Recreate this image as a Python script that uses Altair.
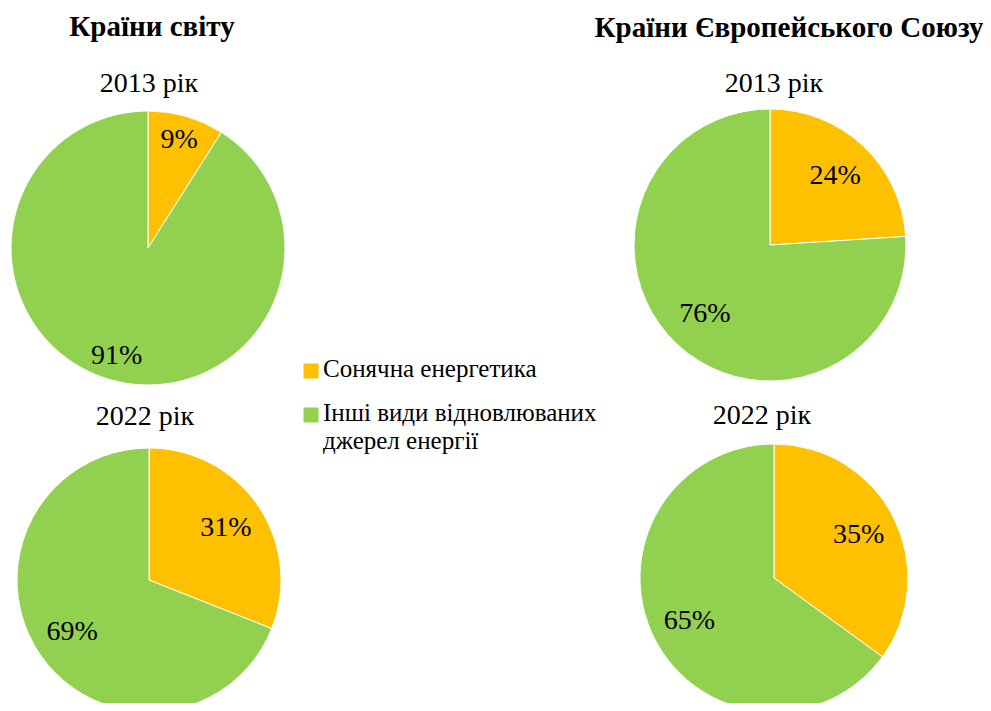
import altair as alt
import pandas as pd

# ---- data ----
categories = ["Сонячна енергетика", "Інші види відновлюваних джерел енергії"]
legend_labels = ["Сонячна енергетика", "Інші види відновлюваних\nджерел енергії"]
panel_titles = ["Країни світу", "Країни Європейського Союзу"]
year_titles = ["2013 рік", "2022 рік"]
world_2013 = [9, 91]
world_2022 = [31, 69]
eu_2013 = [24, 76]
eu_2022 = [35, 65]
colors = ["#FFC000", "#92D050"]

SERIF = "'Liberation Serif', 'Times New Roman', Times, serif"
color_scale = alt.Scale(domain=categories, range=colors)


def pie(values, cx, cy, r, label_r):
    df = pd.DataFrame({"category": categories, "value": values})
    base = alt.Chart(df).encode(
        theta=alt.Theta("value:Q", stack=True),
        order=alt.Order("category:N", sort="descending"),
        x=alt.value(cx),
        y=alt.value(cy),
    )
    arc = base.mark_arc(radius=r, stroke="white", strokeWidth=1).encode(
        color=alt.Color("category:N", scale=color_scale, legend=None)
    )
    txt = base.transform_calculate(label="datum.value + '%'").mark_text(
        radius=label_r, font=SERIF, fontSize=28, color="black",
        align="center", baseline="middle"
    ).encode(text="label:N")
    return [arc, txt]


def title(text, x, y, size, bold=False):
    df = pd.DataFrame({"t": [text]})
    return alt.Chart(df).mark_text(
        font=SERIF, fontSize=size, fontWeight="bold" if bold else "normal",
        color="black", align="center", baseline="alphabetic"
    ).encode(text="t:N", x=alt.value(x), y=alt.value(y))


layers = []
layers += pie(world_2013, 140, 240, 137, 112)
layers += pie(world_2022, 141, 572, 132, 93)
layers += pie(eu_2013, 762, 237, 136, 95)
layers += pie(eu_2022, 766, 570, 134, 95)

layers.append(title(panel_titles[0], 144, 28, 29, bold=True))
layers.append(title(panel_titles[1], 781, 29, 29, bold=True))
layers.append(title(year_titles[0], 141, 84, 28))
layers.append(title(year_titles[0], 766, 84, 28))
layers.append(title(year_titles[1], 137, 417, 28))
layers.append(title(year_titles[1], 754, 416, 28))

legend_df = pd.DataFrame({"category": categories, "label": legend_labels})
leg_y = alt.Y("category:N", scale=alt.Scale(domain=categories, range=[363, 407], padding=0), axis=None)
legend_sq = alt.Chart(legend_df).mark_square(size=225, opacity=1).encode(
    x=alt.value(303),
    y=leg_y,
    color=alt.Color("category:N", scale=color_scale, legend=None),
)
legend_txt = alt.Chart(legend_df).mark_text(
    font=SERIF, fontSize=25, color="black", align="left", baseline="alphabetic",
    dy=6, lineBreak="\n", lineHeight=28
).encode(x=alt.value(315), y=leg_y, text="label:N")
layers += [legend_sq, legend_txt]

chart = alt.layer(*layers).properties(
    width=975, height=695, padding=0, autosize=alt.AutoSizeParams(type="none")
).configure(background="white").configure_view(stroke=None)

chart.save("out.html", embed_options={"renderer": "svg", "actions": False})
